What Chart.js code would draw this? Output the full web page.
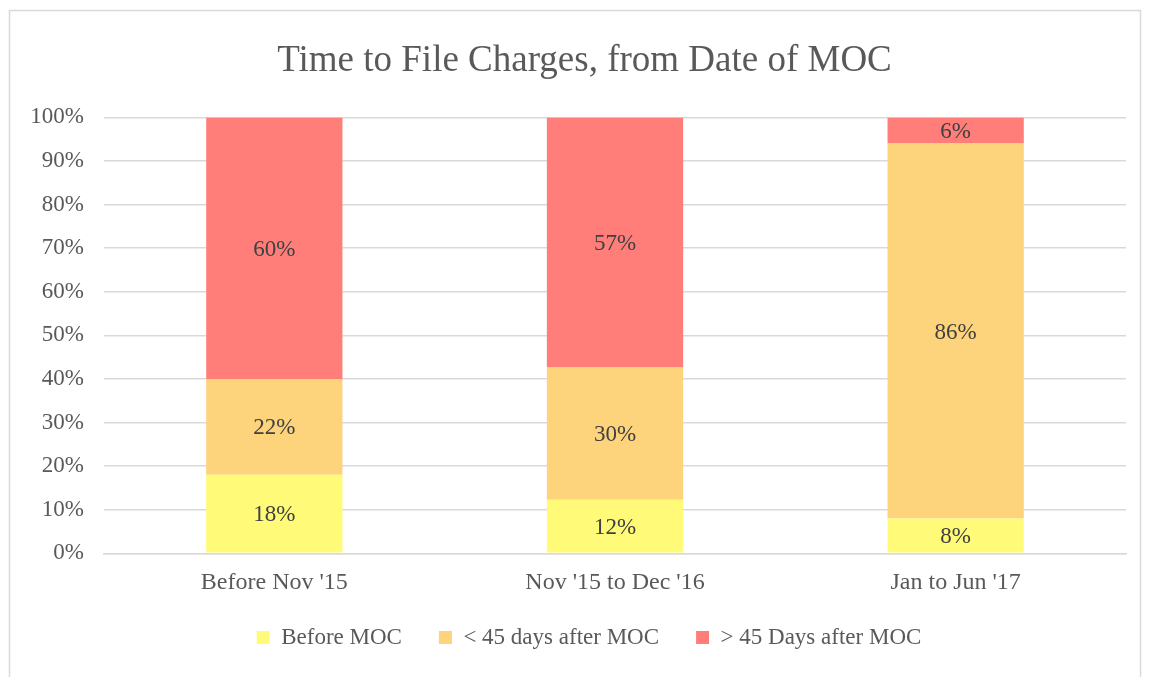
<!DOCTYPE html>
<html>
<head>
<meta charset="utf-8">
<script src="https://cdn.jsdelivr.net/npm/chart.js@4/dist/chart.umd.min.js"></script>
<style>
html,body{margin:0;padding:0;background:#fff;}
#wrap{position:relative;width:1149px;height:677px;}
</style>
</head>
<body>
<div id="wrap"><canvas id="c" width="1149" height="677"></canvas></div>
<script>
const categories = ["Before Nov '15", "Nov '15 to Dec '16", "Jan to Jun '17"];
const beforeMOC = [18, 12.3, 8];
const lessThan45 = [22, 30.3, 86];
const moreThan45 = [60, 57.4, 6];
const seriesNames = ["Before MOC", "< 45 days after MOC", "> 45 Days after MOC"];
const yTicks = [0, 10, 20, 30, 40, 50, 60, 70, 80, 90, 100];

const colors = ["#FFFB78", "#FDD37B", "#FF7E79"];
const serif = "'Liberation Serif', 'Times New Roman', serif";
const textGray = "#595959";

const borderPlugin = {
  id: 'outerBorder',
  beforeDraw(chart) {
    const ctx = chart.ctx;
    ctx.save();
    ctx.fillStyle = '#fff';
    ctx.fillRect(0, 0, chart.width, chart.height);
    ctx.strokeStyle = '#D9D9D9';
    ctx.lineWidth = 1.5;
    ctx.strokeRect(9.5, 10.5, 1131, 700);
    ctx.restore();
  }
};

// shift title and legend boxes to centre them like the original
const centerPlugin = {
  id: 'centerBlocks',
  afterLayout(chart) {
    const t = chart.titleBlock;
    if (t) { t.left = 43; t.right = 1126; t.width = t.right - t.left; }
    const l = chart.legend;
    if (l) {
      l.left = 52; l.right = 1126; l.width = l.right - l.left;
      l.top -= 8.3; l.bottom -= 8.3;
    }
  }
};

const labelPlugin = {
  id: 'barLabels',
  afterDatasetsDraw(chart) {
    const ctx = chart.ctx;
    ctx.save();
    ctx.font = "23px " + serif;
    ctx.fillStyle = "#404040";
    ctx.textAlign = 'center';
    ctx.textBaseline = 'middle';
    chart.data.datasets.forEach((ds, di) => {
      const meta = chart.getDatasetMeta(di);
      meta.data.forEach((bar, i) => {
        const v = ds.data[i];
        const y = (bar.y + bar.base) / 2;
        ctx.fillText(Math.round(v) + '%', bar.x, y + 1.5);
      });
    });
    ctx.restore();
  }
};

new Chart(document.getElementById('c'), {
  type: 'bar',
  data: {
    labels: categories,
    datasets: [
      { label: seriesNames[0], data: beforeMOC, backgroundColor: colors[0] },
      { label: seriesNames[1], data: lessThan45, backgroundColor: colors[1] },
      { label: seriesNames[2], data: moreThan45, backgroundColor: colors[2] }
    ]
  },
  options: {
    responsive: false,
    animation: false,
    layout: { padding: { left: 0, right: 23, top: 0, bottom: 9.7 } },
    datasets: { bar: { categoryPercentage: 1, barPercentage: 0.4 } },
    plugins: {
      title: {
        display: true,
        text: 'Time to File Charges, from Date of MOC',
        color: textGray,
        font: { family: serif, size: 37, weight: 'normal', lineHeight: 1.2 },
        padding: { top: 39, bottom: 34 }
      },
      legend: {
        position: 'bottom',
        labels: {
          color: textGray,
          font: { family: serif, size: 23 },
          boxWidth: 13,
          boxHeight: 13,
          padding: 37
        }
      },
      tooltip: { enabled: false }
    },
    scales: {
      x: {
        stacked: true,
        afterFit(s) { s.height = 44; },
        grid: { display: false, drawTicks: false },
        border: { display: true, color: '#D9D9D9', width: 1.5 },
        ticks: { color: textGray, font: { family: serif, size: 24 }, padding: 15 }
      },
      y: {
        stacked: true,
        min: 0,
        max: 100,
        afterFit(s) { s.width = 104; },
        afterBuildTicks(s) { s.ticks = yTicks.map(v => ({ value: v })); },
        grid: { color: '#D9D9D9', lineWidth: 1.5, drawTicks: false },
        border: { display: false },
        ticks: {
          color: textGray,
          font: { family: serif, size: 23 },
          padding: 20,
          callback: v => v + '%'
        }
      }
    }
  },
  plugins: [borderPlugin, centerPlugin, labelPlugin]
});
</script>
</body>
</html>
